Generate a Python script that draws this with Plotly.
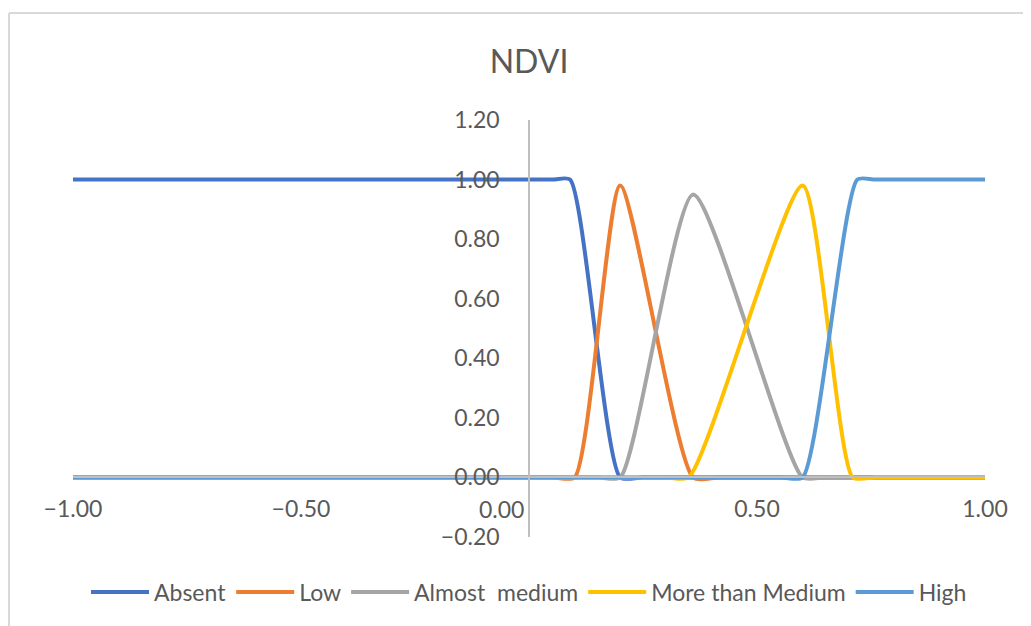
import plotly.graph_objects as go

# ---- data ----
absent_x = [-1.0, 0.05, 0.09, 0.20, 0.25, 1.0]
absent_y = [1.0, 1.0, 1.0, 0.0, 0.0, 0.0]

low_x = [-1.0, 0.05, 0.10, 0.20, 0.36, 0.42, 1.0]
low_y = [0.0, 0.0, 0.0, 0.98, 0.0, 0.0, 0.0]

almost_x = [-1.0, 0.15, 0.20, 0.36, 0.60, 0.65, 1.0]
almost_y = [0.0, 0.0, 0.0, 0.95, 0.0, 0.0, 0.0]

more_x = [-1.0, 0.30, 0.35, 0.60, 0.71, 0.76, 1.0]
more_y = [0.0, 0.0, 0.0, 0.98, 0.0, 0.0, 0.0]

high_x = [-1.0, 0.55, 0.60, 0.72, 0.76, 1.0]
high_y = [0.0, 0.0, 0.0, 1.0, 1.0, 1.0]

series_names = ["Absent", "Low", "Almost  medium", "More than Medium", "High"]
series_colors = ["#4472C4", "#ED7D31", "#A5A5A5", "#FFC000", "#5B9BD5"]

x_tickvals = [-1.0, -0.5, 0.5, 1.0]
y_tickvals = [-0.2, 0.0, 0.2, 0.4, 0.6, 0.8, 1.0, 1.2]
x_zero_label = "0.00"

TEXT = "#595959"
FONT = "Lato"
OFF = 8  # page body margin offset in the browser

fig = go.Figure()
for name, color, xs, ys in zip(series_names, series_colors,
                               [absent_x, low_x, almost_x, more_x, high_x],
                               [absent_y, low_y, almost_y, more_y, high_y]):
    fig.add_trace(go.Scatter(
        x=xs, y=ys, name=name, mode="lines",
        line=dict(color=color, width=4, shape="spline", smoothing=0.6),
    ))

fig.update_layout(
    width=1031, height=626,
    margin=dict(l=73 - OFF, r=46 + OFF, t=120 - OFF, b=89 + OFF),
    paper_bgcolor="white", plot_bgcolor="white",
    font=dict(family=FONT, color=TEXT, size=23),
    title=dict(text="NDVI", x=0.5, xref="paper", xanchor="center",
               y=1 - (62 - OFF) / 626, yanchor="middle",
               font=dict(size=32, color=TEXT, family=FONT)),
    xaxis=dict(range=[-1, 1], anchor="free", position=0.2 / 1.4,
               showline=True, linecolor="#bfbfbf", linewidth=1.5,
               tickvals=x_tickvals, tickformat=".2f", ticks="",
               showgrid=False, zeroline=False, ticklabelstandoff=11,
               tickfont=dict(size=23, color=TEXT, family=FONT)),
    yaxis=dict(range=[-0.2, 1.2], anchor="free", position=0.5,
               showline=True, linecolor="#bfbfbf", linewidth=1.5,
               tickvals=y_tickvals, tickformat=".2f", ticks="",
               showgrid=False, zeroline=False, ticklabelstandoff=24,
               tickfont=dict(size=23, color=TEXT, family=FONT)),
    legend=dict(orientation="h", x=0.5, xanchor="center",
                y=(537 - 592) / 417, yanchor="middle",
                itemwidth=58,
                font=dict(size=23, color=TEXT, family=FONT),
                bgcolor="rgba(0,0,0,0)"),
    showlegend=True,
)

fig.add_annotation(x=0, y=0, xref="x", yref="y", text=x_zero_label,
                   showarrow=False, xanchor="right", yanchor="middle",
                   xshift=-3, yshift=-32,
                   font=dict(size=23, color=TEXT, family=FONT))

# chart border (top and left edges, as visible in the reference)
bx0 = (9 - 73) / 912
by_top = (537 - 13) / 417
fig.add_shape(type="line", xref="paper", yref="paper",
              x0=bx0, x1=(1040 - 73) / 912, y0=by_top, y1=by_top,
              line=dict(color="#d9d9d9", width=2))
fig.add_shape(type="line", xref="paper", yref="paper",
              x0=bx0, x1=bx0, y0=by_top, y1=(537 - 640) / 417,
              line=dict(color="#d9d9d9", width=2))

fig.write_html("out.html")
